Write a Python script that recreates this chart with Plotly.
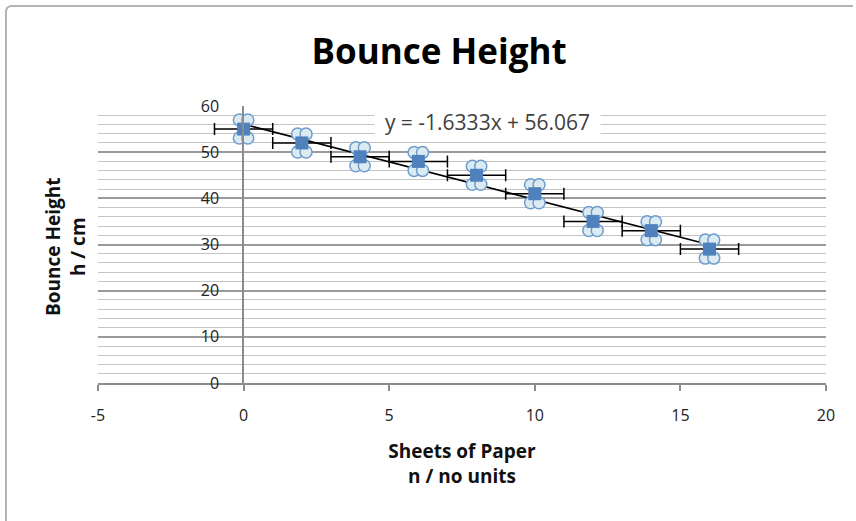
import numpy as np
import plotly.graph_objects as go

# ---- data ----
sheets = [0, 2, 4, 6, 8, 10, 12, 14, 16]
bounce_height = [55, 52, 49, 48, 45, 41, 35, 33, 29]
x_error = [1, 1, 1, 1, 1, 1, 1, 1, 1]
x_ticks = [-5, 0, 5, 10, 15, 20]
y_ticks = [0, 10, 20, 30, 40, 50, 60]

title_text = "Bounce Height"
x_title = "Sheets of Paper<br>n / no units"
y_title = "Bounce Height<br>h / cm"

# ---- fit (trendline) ----
slope, intercept = np.polyfit(sheets, bounce_height, 1)
fit_x = [min(sheets), max(sheets)]
fit_y = [slope * v + intercept for v in fit_x]
eq_text = f"y = {slope:.4f}x + {intercept:.3f}"

# ---- layout constants ----
W, H = 856, 521
L, R, T, B = 98, 30, 106, 138
PW, PH = W - L - R, H - T - B
X_RANGE = [-5, 20]
Y_RANGE = [0, 60]
FONT = "Open Sans"

def px_x(px):
    return (px - L) / PW

def px_y(py):
    return (H - B - py) / PH

# marker cluster style: 4 small circles around a blue square
DX = 0.145
DY = 1.95

fig = go.Figure()

fig.add_trace(go.Scatter(
    x=fit_x, y=fit_y, mode="lines",
    line=dict(color="black", width=1.5),
    hoverinfo="skip", showlegend=False,
))

for sx in (-1, 1):
    for sy in (-1, 1):
        fig.add_trace(go.Scatter(
            x=[v + sx * DX for v in sheets],
            y=[v + sy * DY for v in bounce_height],
            mode="markers",
            marker=dict(symbol="circle", size=12, color="#dcebf2",
                        line=dict(color="#6f9ccc", width=1.5)),
            hoverinfo="skip", showlegend=False,
        ))

fig.add_trace(go.Scatter(
    x=sheets, y=bounce_height, mode="markers",
    marker=dict(symbol="square", size=13, color="#4f81bd",
                line=dict(color="#4f81bd", width=0)),
    error_x=dict(type="data", array=x_error, visible=True,
                 color="black", thickness=1.5, width=6),
    showlegend=False,
))

fig.update_layout(
    width=W, height=H,
    margin=dict(l=L, r=R, t=T, b=B),
    paper_bgcolor="white", plot_bgcolor="white",
    font=dict(family=FONT, color="#222222"),
    title=dict(text="<b>" + title_text + "</b>", x=0.513, xref="container",
               xanchor="center", y=1 - 52 / H, yref="container", yanchor="middle",
               font=dict(family=FONT, size=35, color="black")),
    showlegend=False,
)

fig.update_xaxes(
    range=X_RANGE, tickvals=x_ticks, ticktext=[str(v) for v in x_ticks],
    ticks="outside", ticklen=6,
    tickcolor="#8c8c8c", tickwidth=1.5,
    showline=True, linecolor="#8c8c8c", linewidth=1.5,
    showgrid=False, zeroline=False,
    tickfont=dict(family=FONT, size=16, color="#222222"),
    ticklabelstandoff=11,
    title=dict(text="<b>" + x_title + "</b>", standoff=20,
               font=dict(family=FONT, size=19, color="#111111")),
)

fig.update_yaxes(
    range=Y_RANGE, tickvals=y_ticks, ticktext=[str(v) for v in y_ticks],
    anchor="free", position=px_x(243),
    showline=True, linecolor="#8c8c8c", linewidth=1.5,
    ticks="", ticklabelstandoff=20,
    showgrid=True, gridcolor="#9a9a9a", gridwidth=1.5,
    minor=dict(dtick=2, showgrid=True, gridcolor="#c4c4c4", gridwidth=1.3),
    zeroline=False,
    tickfont=dict(family=FONT, size=16, color="#222222"),
)

fig.add_annotation(
    x=px_x(65), y=px_y(247), xref="paper", yref="paper",
    text="<b>" + y_title + "</b>", textangle=-90, showarrow=False,
    font=dict(family=FONT, size=19, color="#111111"),
    xanchor="center", yanchor="middle",
)

fig.add_annotation(
    x=8.38, y=56.5, xref="x", yref="y",
    text=eq_text, showarrow=False,
    font=dict(family=FONT, size=21, color="#404040"),
    bgcolor="white", borderpad=5, width=215, height=26,
    xanchor="center", yanchor="middle",
)

# chart border (top and left edges with rounded corner)
x0, xr = px_x(6), px_x(853)
yt, yb = px_y(6), px_y(521)
rx, ry = px_x(12), px_y(12)
fig.add_shape(
    type="path", xref="paper", yref="paper",
    path=f"M {x0},{yb} L {x0},{ry} Q {x0},{yt} {rx},{yt} L {xr},{yt}",
    line=dict(color="#b4b4b4", width=2),
)

fig.write_html("out.html")
